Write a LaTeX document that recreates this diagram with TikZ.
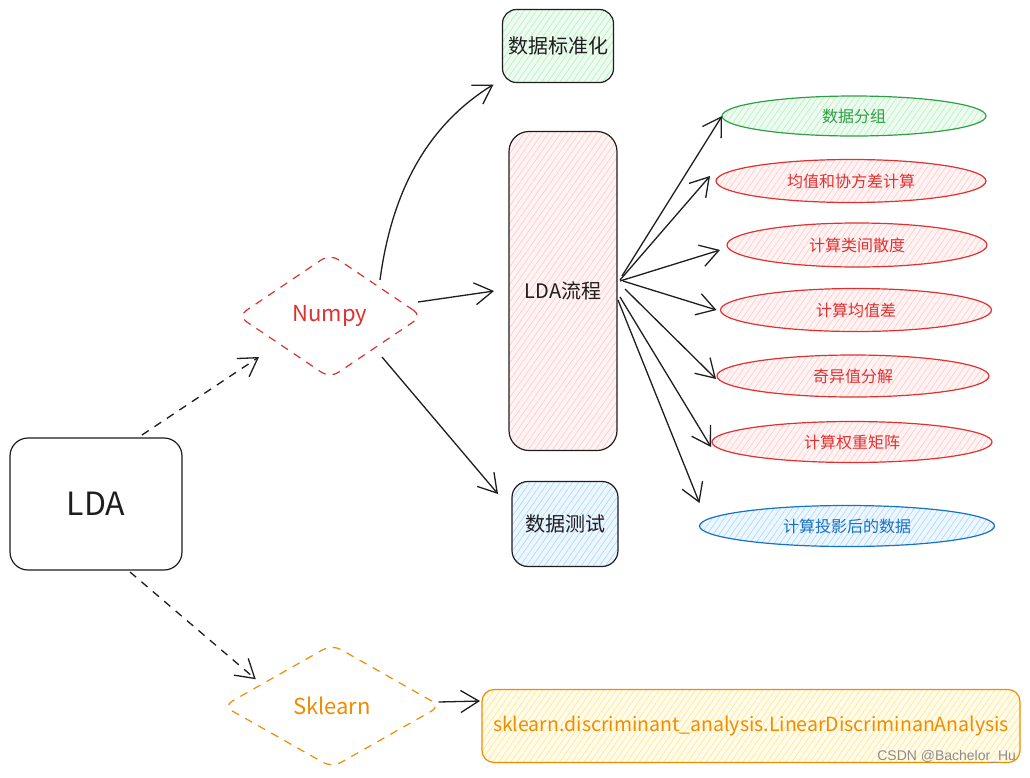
\documentclass[tikz,border=0pt]{standalone}
\usepackage{fontspec}
\setmainfont{Noto Sans CJK SC}
\newfontfamily\wmfont{Liberation Sans}
\usetikzlibrary{shapes.geometric,arrows.meta,patterns.meta,calc}
\definecolor{ink}{HTML}{1E1E1E}
\definecolor{gstroke}{HTML}{2F9E44}
\definecolor{gfill}{HTML}{EEFBF0}
\definecolor{ghatch}{HTML}{B2F2BB}
\definecolor{rstroke}{HTML}{E03131}
\definecolor{rfill}{HTML}{FFF3F3}
\definecolor{rhatch}{HTML}{FFC9C9}
\definecolor{bstroke}{HTML}{1971C2}
\definecolor{bfill}{HTML}{EEF7FF}
\definecolor{bhatch}{HTML}{A5D8FF}
\definecolor{ostroke}{HTML}{F08C00}
\definecolor{ofill}{HTML}{FFFCEB}
\definecolor{ohatch}{HTML}{FFE58A}
\begin{document}
\begin{tikzpicture}[x=1pt,y=-1pt,
  every node/.style={inner sep=0pt,outer sep=0pt},
  hatch/.style n args={2}{preaction={fill=#1},pattern={Lines[angle=55,distance=5pt,line width=0.6pt]},pattern color=#2},
  boxk/.style={draw=ink,line width=1.2pt,rounded corners=18pt,text=ink,font=\fontsize{20}{24}\selectfont},
  ell/.style={ellipse,line width=1.2pt,font=\fontsize{16}{19}\selectfont},
  diam/.style={diamond,line width=1.2pt,rounded corners=10pt,dash pattern=on 8pt off 7pt,font=\fontsize{22}{26}\selectfont},
  ar/.style={draw=ink,line width=1.3pt,-{Straight Barb[length=18pt,width=22pt,line width=1.3pt]}},
  dasharrow/.style={ar,dash pattern=on 8pt off 7pt}
]
\useasboundingbox[fill=white] (0,0) rectangle (1030,777);

% main boxes
\node[boxk,minimum width=172,minimum height=132,font=\fontsize{32}{36}\selectfont] (lda) at (96,504) {LDA};
\node[diam,draw=rstroke,text=rstroke,minimum width=184,minimum height=124] (np) at (330,316) {Numpy};
\node[diam,draw=ostroke,text=ostroke,minimum width=217,minimum height=123] (skd) at (332,706) {Sklearn};

\node[boxk,hatch={gfill}{ghatch},minimum width=111,minimum height=73,rounded corners=14pt] (std) at (558,46) {数据标准化};
\node[boxk,hatch={rfill}{rhatch},minimum width=108,minimum height=319,rounded corners=20pt] (flow) at (563,291) {LDA流程};
\node[boxk,hatch={bfill}{bhatch},minimum width=106,minimum height=85,rounded corners=16pt] (test) at (565,524) {数据测试};

% ellipses
\node[ell,draw=gstroke,text=gstroke,hatch={gfill}{ghatch},minimum width=264,minimum height=40] (e1) at (854,116) {数据分组};
\node[ell,draw=rstroke,text=rstroke,hatch={rfill}{rhatch},minimum width=270,minimum height=43] (e2) at (851,181) {均值和协方差计算};
\node[ell,draw=rstroke,text=rstroke,hatch={rfill}{rhatch},minimum width=260,minimum height=44] (e3) at (857,245) {计算类间散度};
\node[ell,draw=rstroke,text=rstroke,hatch={rfill}{rhatch},minimum width=271,minimum height=43] (e4) at (856,310) {计算均值差};
\node[ell,draw=rstroke,text=rstroke,hatch={rfill}{rhatch},minimum width=272,minimum height=42] (e5) at (853,376) {奇异值分解};
\node[ell,draw=rstroke,text=rstroke,hatch={rfill}{rhatch},minimum width=280,minimum height=41] (e6) at (852,442) {计算权重矩阵};
\node[ell,draw=bstroke,text=bstroke,hatch={bfill}{bhatch},minimum width=295,minimum height=41] (e7) at (847,526) {计算投影后的数据};

% sklearn class box
\node[draw=ostroke,line width=1.2pt,rounded corners=12pt,hatch={ofill}{ohatch},text=ostroke,
      minimum width=538,minimum height=73,font=\fontsize{19.5}{23}\selectfont] (sk) at (751,726) {sklearn.discriminant\_analysis.LinearDiscriminanAnalysis};

% watermark
\node[anchor=east,text=black!45,font=\wmfont\fontsize{14}{16}\selectfont] (wm) at (1016,757) {CSDN @Bachelor\_Hu};

% connectors
\draw[dasharrow] ($(lda.north)+(46,-3)$) -- ($(np.south west)+(-25,10)$);
\draw[dasharrow] ($(lda.south)+(34,2)$) -- ($(skd.north west)+(-22,4)$);

\draw[ar] ($(np.north east)+(4,-5)$) .. controls (392,190) and (428,125) .. ($(std.south west)+(-9,2)$);
\draw[ar] ($(np.east)+(-4,-14)$) -- ($(flow.west)+(-15,0)$);
\draw[ar] ($(np.south east)+(6,10)$) -- ($(test.west)+(-14,-30)$);
\draw[ar] ($(skd.east)+(-2,-4)$) -- ($(sk.west)+(-2,-25)$);

\draw[ar] ($(flow.east)+(5,-15)$) -- (e1.west);
\draw[ar] ($(flow.east)+(3,-11)$) -- ($(e2.west)+(-6,-5)$);
\draw[ar] ($(flow.east)+(3,-10)$) -- ($(e3.west)+(-7,5)$);
\draw[ar] ($(flow.east)+(6,-10)$) -- ($(e4.west)+(-4,0)$);
\draw[ar] ($(flow.east)+(8,-2)$) -- ($(e5.west)+(-1,3)$);
\draw[ar] ($(flow.east)+(3,6)$) -- ($(e6.west)+(-1,5)$);
\draw[ar] ($(flow.east)+(1,9)$) -- ($(e7.west)+(0,-23)$);
\end{tikzpicture}
\end{document}
